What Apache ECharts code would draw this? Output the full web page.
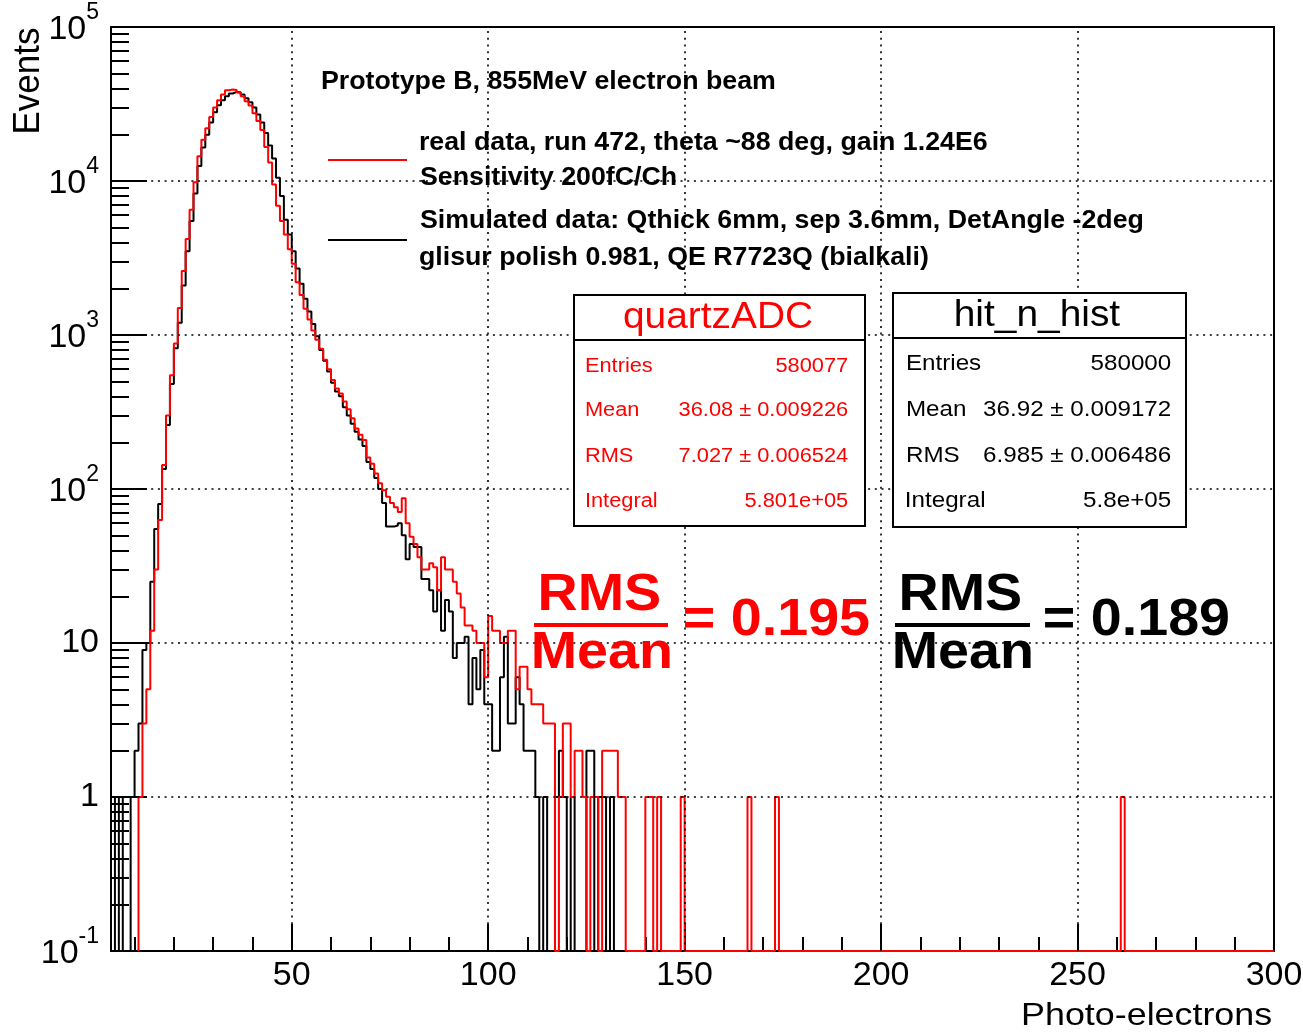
<!DOCTYPE html>
<html><head><meta charset="utf-8">
<script src="https://cdn.jsdelivr.net/npm/echarts@6/dist/echarts.min.js"></script>
<style>html,body{margin:0;padding:0;background:#fff}#c{width:1303px;height:1035px}</style>
</head><body><div id="c"></div>
<script>
// ---------------- data ----------------
const X_MIN = 4, X_MAX = 300;
const Y_MIN = 0.1, Y_MAX = 100000;
const xMajorTicks = [50, 100, 150, 200, 250, 300];
const xMinorTicks = [10,20,30,40,50,60,70,80,90,100,110,120,130,140,150,160,170,180,190,200,210,220,230,240,250,260,270,280,290,300];
const xGridValues = [50, 100, 150, 200, 250];
const yMajorTicks = [0.1, 1, 10, 100, 1000, 10000, 100000];
const yGridValues = [1, 10, 100, 1000, 10000];

// simulated (hit_n_hist), bins of width 1 starting at x = 4
const blackFirstBin = 4;
const blackCounts = [
 1,0,1,0,0,1,2,3,9,10,              // 4-13
 25,55,80,135,260,480,820,1200,2100,3500, // 14-23
 5500,8300,12500,16500,20000,24000,28000,31000,33500,35500, // 24-33
 37000,37900,37700,36500,34500,32500,30000,27000,24000,20500, // 34-43
 17000,14000,10500,8000,5600,4500,3500,2700,2150,1720, // 44-53
 1420,1180,980,800,680,580,490,430,400,340, // 54-63
 300,265,235,210,190,150,135,118,100,81,   // 64-73
 57,57,58,60,50,35,44,42,42,26,            // 74-83
 26,22,16,22,12,19,16,8,10,10,             // 84-93
 11,4,8,5,9,4,4,2,2,6,                     // 94-103
 11,3,3,6,4,2,2,2,1,0,                     // 104-113
 1,0,0,1,2,1,0,1,0,0,                      // 114-123
 0,2,2,0,1,1,0,1,0,0,0,0                   // 124-135
];
const blackTailBins = [];
const blackTailCounts = [];

// real data (quartzADC), bins of width 1 starting at x = 11
const redFirstBin = 11;
const redCounts = [
 1,3,5,12,30,63,143,300,548,880,           // 11-20
 1500,2600,4200,6500,9800,14500,18500,22000,26000,30000, // 21-30
 33500,36500,38900,39300,39000,37500,35500,33000,30900,27500, // 31-40
 24500,21400,16600,13200,9500,6900,5500,4500,3600,2900, // 41-50
 2200,1820,1480,1260,1070,930,814,690,600,510, // 51-60
 450,417,370,330,288,247,225,208,160,146,  // 61-70
 126,109,98,89,81,76,71,87,60,49,          // 71-80
 44,36,30,30,33,31,22,36,30,30,            // 81-90
 25,21,17,13,13,12,10,10,6,15,             // 91-100
 12,12,10,10,12,12,5,7,7,5,                // 101-110
 4,4,4,3,3,3,0,1,3,3,                      // 111-120
 1,2,2,1,0,1,1,0,2,2,                      // 121-130
 2,2,1,1,0                                 // 131-135
];
const redTailBins = [140, 141, 143, 149, 166, 173, 261];
const redTailCounts = [1, 1, 1, 1, 1, 1, 1];

const titleText = 'Prototype B, 855MeV electron beam';
const redLegend = ['real data, run 472, theta ~88 deg, gain 1.24E6', 'Sensitivity 200fC/Ch'];
const blackLegend = ['Simulated data: Qthick 6mm, sep 3.6mm, DetAngle -2deg', 'glisur polish 0.981, QE R7723Q (bialkali)'];
const redStatsTitle = 'quartzADC';
const redStatsLabels = ['Entries', 'Mean', 'RMS', 'Integral'];
const redStatsValues = ['580077', '36.08 \u00b1 0.009226', '7.027 \u00b1 0.006524', '5.801e+05'];
const blackStatsTitle = 'hit_n_hist';
const blackStatsLabels = ['Entries', 'Mean', 'RMS', 'Integral'];
const blackStatsValues = ['580000', '36.92 \u00b1 0.009172', '6.985 \u00b1 0.006486', '5.8e+05'];
const redRatio = '= 0.195';
const blackRatio = '= 0.189';

// ---------------- build ----------------
function histPoints(first, counts, tailBins, tailCounts) {
  const n = X_MAX - first;
  const full = new Array(n).fill(0);
  counts.forEach((c, i) => { full[i] = c; });
  tailBins.forEach((b, j) => { full[b - first] = tailCounts[j]; });
  const pts = [[first, Y_MIN]];
  full.forEach((c, i) => pts.push([first + i, c > 0 ? c : Y_MIN]));
  pts.push([X_MAX, full[n - 1] > 0 ? full[n - 1] : Y_MIN]);
  return pts;
}
const yMinorTicks = [];
yMajorTicks.slice(0, -1).forEach(d => { for (let m = 2; m <= 9; m++) yMinorTicks.push(+(d * m).toPrecision(3)); });

const FONT = '"Liberation Sans", Arial, Helvetica, sans-serif';
const mctx = document.createElement('canvas').getContext('2d');
function textAt(txt, x, cy, size, weight, color, s, align) {
  const font = weight + ' ' + size + 'px ' + FONT;
  mctx.font = font;
  const m = mctx.measureText(txt);
  const gl = m.actualBoundingBoxLeft, gr = m.actualBoundingBoxRight;
  let ax;
  if (align === 'right') ax = x - gr * s;
  else if (align === 'center') ax = x - ((gr - gl) / 2) * s;
  else ax = x + gl * s;
  return { type: 'text', x: ax, y: cy, scaleX: s, z: 100, silent: true,
    style: { text: txt, font: font, fill: color, align: 'left', verticalAlign: 'middle', textAlign: 'left', textVerticalAlign: 'middle' } };
}

const graphics = [];
// legend + title
graphics.push(textAt(titleText, 322, 82, 25, 'bold', '#000', 1.07));
graphics.push(textAt(redLegend[0], 420, 143, 25, 'bold', '#000', 1.07));
graphics.push(textAt(redLegend[1], 420, 178, 25, 'bold', '#000', 1.07));
graphics.push(textAt(blackLegend[0], 420, 221, 25, 'bold', '#000', 1.07));
graphics.push(textAt(blackLegend[1], 420, 258, 25, 'bold', '#000', 1.07));
graphics.push({ type: 'line', z: 100, silent: true, shape: { x1: 328, y1: 160, x2: 407, y2: 160 }, style: { stroke: '#ff0000', lineWidth: 2 } });
graphics.push({ type: 'line', z: 100, silent: true, shape: { x1: 328, y1: 240, x2: 407, y2: 240 }, style: { stroke: '#000', lineWidth: 2 } });
// stats boxes
function statsBox(x0, y0, x1, y1, sepY, title, titleCx, titleCy, labels, values, color, size, s, lx, rx, rows) {
  graphics.push({ type: 'rect', z: 90, silent: true, shape: { x: x0, y: y0, width: x1 - x0, height: y1 - y0 }, style: { fill: '#fff', stroke: '#000', lineWidth: 2 } });
  graphics.push({ type: 'line', z: 91, silent: true, shape: { x1: x0, y1: sepY, x2: x1, y2: sepY }, style: { stroke: '#000', lineWidth: 2 } });
  graphics.push(textAt(title, titleCx, titleCy, 36, 'normal', color, 1.08, 'center'));
  labels.forEach((l, i) => {
    graphics.push(textAt(l, lx, rows[i], size, 'normal', color, s));
    graphics.push(textAt(values[i], rx, rows[i], size, 'normal', color, s, 'right'));
  });
}
statsBox(574, 295, 865, 526, 340, redStatsTitle, 718, 318, redStatsLabels, redStatsValues, '#ff0000', 20, 1.09, 586, 848, [366, 410, 456, 501]);
statsBox(893, 293, 1186, 527, 338, blackStatsTitle, 1038, 316, blackStatsLabels, blackStatsValues, '#000', 22, 1.1, 907, 1171, [364, 410, 456, 501]);
// RMS / Mean ratios
function ratio(cx, barX0, barX1, eqLeft, txt, color) {
  graphics.push(textAt('RMS', cx, 596, 52, 'bold', color, 1.07, 'center'));
  graphics.push(textAt('Mean', cx + 2, 654, 52, 'bold', color, 1.07, 'center'));
  graphics.push({ type: 'rect', z: 100, silent: true, shape: { x: barX0, y: 623, width: barX1 - barX0, height: 4 }, style: { fill: color } });
  graphics.push(textAt(txt, eqLeft, 621, 52, 'bold', color, 1.07));
}
ratio(600, 534, 668, 685, redRatio, '#ff0000');
ratio(961, 895, 1030, 1045, blackRatio, '#000');
// axis titles
graphics.push(textAt('Photo-electrons', 1271, 1016, 32, 'normal', '#000', 1.12, 'right'));
(function () {
  const font = 'normal 35px ' + FONT;
  graphics.push({ type: 'text', x: 29, y: 81, rotation: Math.PI / 2, scaleY: 1.08, z: 100, silent: true,
    style: { text: 'Events', font: font, fill: '#000', align: 'center', verticalAlign: 'middle', textAlign: 'center', textVerticalAlign: 'middle' } });
})();

const axisLineStyle = { color: '#000', width: 2 };
const tickStyle = { color: '#000', width: 2 };
const option = {
  animation: false,
  backgroundColor: '#fff',
  grid: { left: 111, top: 27, width: 1163, height: 924, containLabel: false, outerBoundsMode: 'none' },
  xAxis: [
    { type: 'value', min: X_MIN, max: X_MAX, position: 'bottom',
      axisLine: { show: true, onZero: false, lineStyle: axisLineStyle },
      axisTick: { show: true, inside: true, length: 14, customValues: xMinorTicks, lineStyle: tickStyle },
      axisLabel: { show: false }, splitLine: { show: false } },
    { type: 'value', min: X_MIN, max: X_MAX, position: 'bottom',
      axisLine: { show: false, onZero: false },
      axisTick: { show: true, inside: true, length: 27, customValues: xMajorTicks, lineStyle: tickStyle },
      axisLabel: { show: true, customValues: xMajorTicks, margin: 8, fontSize: 34, fontFamily: FONT, color: '#000', showMaxLabel: true, showMinLabel: true },
      splitLine: { show: false } },
    { type: 'value', min: X_MIN, max: X_MAX, position: 'top',
      axisLine: { show: true, onZero: false, lineStyle: axisLineStyle },
      axisTick: { show: false }, axisLabel: { show: false }, splitLine: { show: false } }
  ],
  yAxis: [
    { type: 'log', logBase: 10, min: Y_MIN, max: Y_MAX, position: 'left',
      axisLine: { show: true, onZero: false, lineStyle: axisLineStyle },
      axisTick: { show: true, inside: true, length: 18, customValues: yMinorTicks, lineStyle: tickStyle },
      axisLabel: { show: false }, splitLine: { show: false } },
    { type: 'log', logBase: 10, min: Y_MIN, max: Y_MAX, position: 'left',
      axisLine: { show: false, onZero: false },
      axisTick: { show: true, inside: true, length: 36, customValues: yMajorTicks, lineStyle: tickStyle },
      axisLabel: { show: true, customValues: yMajorTicks, margin: 12, color: '#000',
        formatter: function (v) {
          const e = Math.round(Math.log10(v));
          if (e === 0) return '{p|1}';
          if (e === 1) return '{p|10}';
          return '{b|10}{s|' + e + '}';
        },
        rich: {
          p: { fontSize: 34, fontFamily: FONT, color: '#000' },
          b: { fontSize: 34, lineHeight: 34, fontFamily: FONT, color: '#000', padding: [6, 0, 0, 0] },
          s: { fontSize: 23, lineHeight: 23, fontFamily: FONT, color: '#000', padding: [0, 0, 28, 0] }
        } },
      splitLine: { show: false } },
    { type: 'log', logBase: 10, min: Y_MIN, max: Y_MAX, position: 'right',
      axisLine: { show: true, onZero: false, lineStyle: axisLineStyle },
      axisTick: { show: false }, axisLabel: { show: false }, splitLine: { show: false } }
  ],
  series: [
    { type: 'line', name: 'grid', xAxisIndex: 0, yAxisIndex: 0, data: [[X_MIN, Y_MIN]], symbol: 'none', z: 1, silent: true,
      lineStyle: { opacity: 0 },
      markLine: { silent: true, symbol: ['none', 'none'], label: { show: false }, animation: false,
        lineStyle: { color: '#000', type: [2, 4.7], width: 1.6 },
        emphasis: { disabled: true },
        data: xGridValues.map(v => ({ xAxis: v })).concat(yGridValues.map(v => ({ yAxis: v }))) } },
    { type: 'line', name: 'hit_n_hist', xAxisIndex: 0, yAxisIndex: 0, step: 'end', symbol: 'none', showSymbol: false, z: 2,
      color: '#000', lineStyle: { color: '#000', width: 2 }, clip: true,
      data: histPoints(blackFirstBin, blackCounts, blackTailBins, blackTailCounts) },
    { type: 'line', name: 'quartzADC', xAxisIndex: 0, yAxisIndex: 0, step: 'end', symbol: 'none', showSymbol: false, z: 3,
      color: '#ff0000', lineStyle: { color: '#ff0000', width: 2 }, clip: true,
      data: histPoints(redFirstBin, redCounts, redTailBins, redTailCounts) }
  ],
  graphic: graphics
};
const chart = echarts.init(document.getElementById('c'), null, { renderer: 'canvas', width: 1303, height: 1035 });
chart.setOption(option);
</script>
</body></html>
